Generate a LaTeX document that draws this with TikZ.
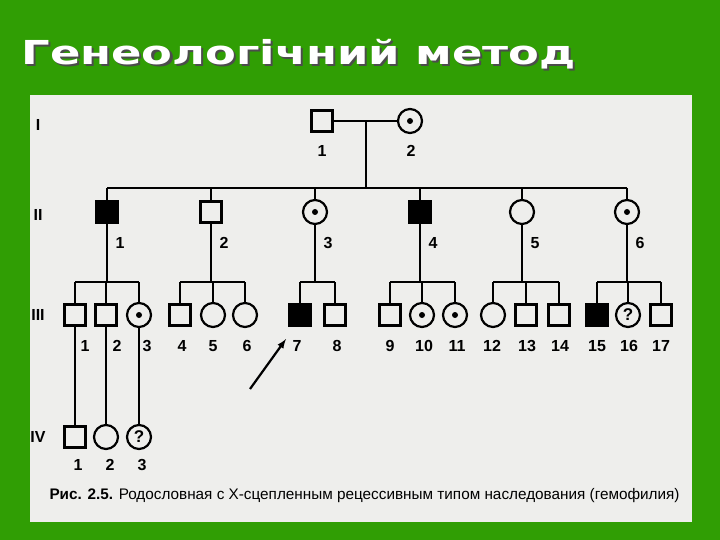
\documentclass[tikz,border=0pt]{standalone}
\usepackage{fontspec}
\setmainfont{Liberation Sans}
\newfontfamily\titlefont{DejaVu Sans}
\definecolor{bggreen}{RGB}{48,158,4}
\definecolor{panel}{RGB}{238,238,236}
\begin{document}
\begin{tikzpicture}[x=1pt,y=-1pt,
  conn/.style={draw,line width=2.2pt},
  sq/.style={draw,line width=2.2pt,minimum size=21pt,inner sep=0pt},
  fsq/.style={sq,fill=black},
  ci/.style={draw,circle,line width=2.2pt,minimum size=24pt,inner sep=0pt},
  dci/.style={ci,label={[fill=black,circle,inner sep=0pt,minimum size=6pt]center:}},
  qci/.style={ci,font=\fontsize{17}{17}\selectfont\bfseries},
  num/.style={font=\fontsize{16}{16}\selectfont\bfseries},
  gen/.style={font=\fontsize{16}{16}\selectfont\bfseries}]
\fill[bggreen] (0,0) rectangle (720,540);
\useasboundingbox (0,0) rectangle (720,540);
\fill[panel] (30,95) rectangle (692,522);
\node[anchor=west,text=white,font=\titlefont\fontsize{33}{33}\selectfont\bfseries] (title) at (18,55) {\scalebox{1.36}[1]{\rlap{\kern1.5pt\raisebox{-2pt}{\textcolor{black!70}{Генеологічний метод}}}Генеологічний метод}};
% generation labels
\node[gen] (gI) at (38,125) {I};
\node[gen] (gII) at (38,215) {II};
\node[gen] (gIII) at (38,315) {III};
\node[gen] (gIV) at (38,437) {IV};
% Gen I
\node[sq] (a1) at (322,121) {};
\node[dci] (a2) at (410,121) {};
\node[num] at (322,151) {1};
\node[num] at (411,151) {2};
\draw[conn] (a1) -- (a2);
\coordinate (am) at (366,121);
\coordinate (bl) at (366,188);
\draw[conn] (am) -- (bl);
% Gen II
\node[fsq] (b1) at (107,212) {};
\node[sq] (b2) at (211,212) {};
\node[dci] (b3) at (315,212) {};
\node[fsq] (b4) at (420,212) {};
\node[ci] (b5) at (522,212) {};
\node[dci] (b6) at (627,212) {};
\draw[conn] (107,188) -- (627,188);
\foreach \n/\x in {b1/107,b2/211,b3/315,b4/420,b5/522,b6/627}{
  \draw[conn] (\x,188) -- (\n.north);
  \draw[conn] (\n.south) -- (\x,282);}
\foreach \x/\t in {107/1,211/2,315/3,420/4,522/5,627/6}{\node[num] at (\x+13,243) {\t};}
% Gen III
\node[sq] (c1) at (75,315) {};
\node[sq] (c2) at (106,315) {};
\node[dci] (c3) at (139,315) {};
\node[sq] (c4) at (180,315) {};
\node[ci] (c5) at (213,315) {};
\node[ci] (c6) at (245,315) {};
\node[fsq] (c7) at (300,315) {};
\node[sq] (c8) at (335,315) {};
\node[sq] (c9) at (390,315) {};
\node[dci] (c10) at (422,315) {};
\node[dci] (c11) at (455,315) {};
\node[ci] (c12) at (493,315) {};
\node[sq] (c13) at (526,315) {};
\node[sq] (c14) at (559,315) {};
\node[fsq] (c15) at (597,315) {};
\node[qci] (c16) at (628,315) {?};
\node[sq] (c17) at (661,315) {};
\foreach \a/\b in {75/139,180/245,300/335,390/455,493/559,597/661}{\draw[conn] (\a,282) -- (\b,282);}
\foreach \n/\x in {c1/75,c2/106,c3/139,c4/180,c5/213,c6/245,c7/300,c8/335,c9/390,c10/422,c11/455,c12/493,c13/526,c14/559,c15/597,c16/628,c17/661}{
  \draw[conn] (\x,282) -- (\n.north);}
\foreach \x/\t in {85/1,117/2,147/3,182/4,213/5,247/6,297/7,337/8,390/9,424/10,457/11,492/12,527/13,560/14,597/15,629/16,661/17}{\node[num] at (\x,346) {\t};}
% Gen IV
\node[sq] (d1) at (75,437) {};
\node[ci] (d2) at (106,437) {};
\node[qci] (d3) at (139,437) {?};
\draw[conn] (c1.south) -- (d1.north);
\draw[conn] (c2.south) -- (d2.north);
\draw[conn] (c3.south) -- (d3.north);
\foreach \x/\t in {78/1,110/2,142/3}{\node[num] at (\x,465) {\t};}
% arrow
\coordinate (ar0) at (250,389);
\coordinate (ar1) at (286,339);
\draw[conn,-latex] (ar0) -- (ar1);
% caption
\node[anchor=west,font=\fontsize{15.3}{16}\selectfont] (cap) at (46,496) {\textbf{Рис. 2.5.} Родословная с Х-сцепленным рецессивным типом наследования (гемофилия)};
\end{tikzpicture}
\end{document}
